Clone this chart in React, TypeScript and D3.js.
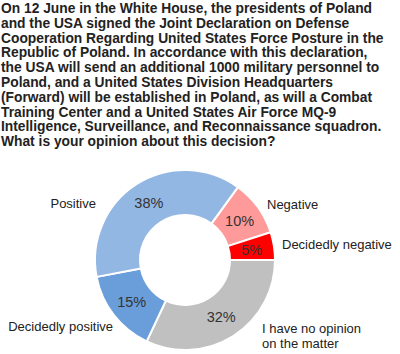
import React from 'react';
import * as d3 from 'd3';

const titleLines = [
  'On 12 June in the White House, the presidents of Poland',
  'and the USA signed the Joint Declaration on Defense',
  'Cooperation Regarding United States Force Posture in the',
  'Republic of Poland. In accordance with this declaration,',
  'the USA will send an additional 1000 military personnel to',
  'Poland, and a United States Division Headquarters',
  '(Forward) will be established in Poland, as will a Combat',
  'Training Center and a United States Air Force MQ-9',
  'Intelligence, Surveillance, and Reconnaissance squadron.',
  'What is your opinion about this decision?',
];

// clockwise from the Positive/Negative boundary
const categories = ['Negative', 'Decidedly negative', 'I have no opinion\non the matter', 'Decidedly positive', 'Positive'];
const values = [10, 5, 32, 15, 38];
const colors = ['#ff9a9a', '#ff0000', '#c0c0c0', '#6a9edb', '#93b7e3'];

// outer label placement relative to the donut centre
const labelOffsets = [
  { dx: 82, dy: -51, anchor: 'start' },
  { dx: 97, dy: -11, anchor: 'start' },
  { dx: 77, dy: 73, anchor: 'start' },
  { dx: -72, dy: 71, anchor: 'end' },
  { dx: -89, dy: -52, anchor: 'end' },
];

const W = 400;
const H = 354;
const cx = 185;
const cy = 260;
const outerR = 90;
const innerR = 45;

export default function App() {
  const startAngle = (36 * Math.PI) / 180;
  const pie = d3.pie<number>().sort(null).startAngle(startAngle).endAngle(startAngle + 2 * Math.PI);
  const arcs = pie(values);
  const arc = d3.arc<d3.PieArcDatum<number>>().innerRadius(innerR).outerRadius(outerR);

  return (
    <svg width={W} height={H} style={{ position: 'absolute', left: 0, top: 0, fontFamily: 'Liberation Sans, Arial, sans-serif' }}>
      <rect width={W} height={H} fill="#fff" />
      <g>
        {titleLines.map((t, i) => (
          <text key={i} x={1} y={13 + i * 14.8} fontSize={13.8} fontWeight="bold" fill="#222">
            {t}
          </text>
        ))}
      </g>
      <g transform={`translate(${cx},${cy})`}>
        {arcs.map((a, i) => (
          <path key={i} d={arc(a) || ''} fill={colors[i]} stroke="#fff" strokeWidth={2} />
        ))}
        {arcs.map((a, i) => {
          const [x, y] = arc.centroid(a);
          return (
            <text key={'p' + i} x={x} y={y} dy="0.36em" textAnchor="middle" fontSize={14.5} fill="#333">
              {values[i]}%
            </text>
          );
        })}
        {categories.map((c, i) => {
          const o = labelOffsets[i];
          return (
            <text key={'l' + i} x={o.dx} y={o.dy} textAnchor={o.anchor} fontSize={13} fill="#222">
              {c.split('\n').map((s, j) => (
                <tspan key={j} x={o.dx} dy={j === 0 ? 0 : 15}>
                  {s}
                </tspan>
              ))}
            </text>
          );
        })}
      </g>
    </svg>
  );
}
